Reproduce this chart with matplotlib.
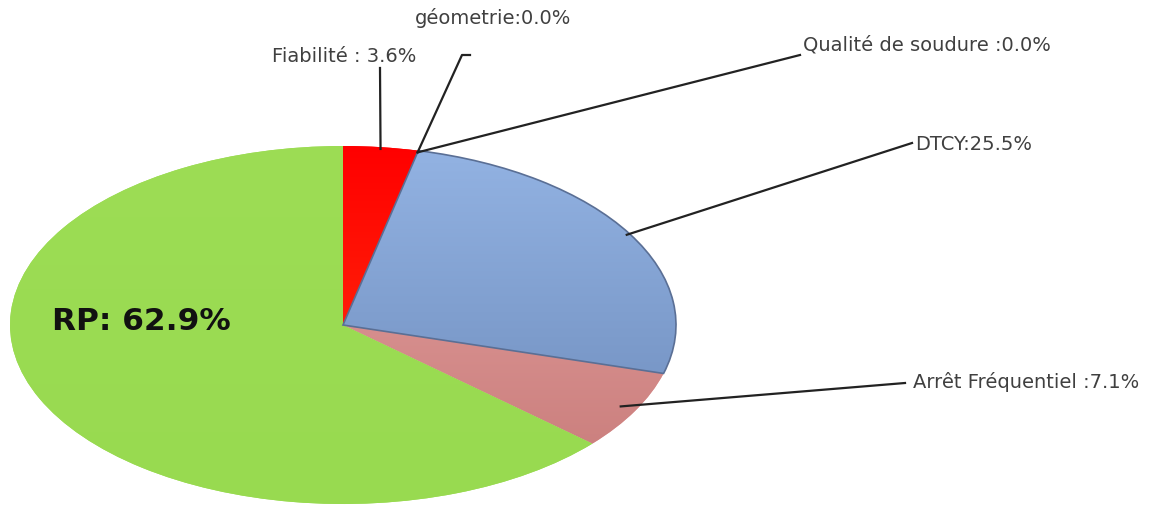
import matplotlib
matplotlib.use("Agg")
from matplotlib import pyplot as plt
import numpy as np

labels = ["Fiabilité : 3.6%", "géometrie:0.0%", "Qualité de soudure :0.0%",
          "DTCY:25.5%", "Arrêt Fréquentiel :7.1%", "RP: 62.9%"]
values = [3.6, 0.0, 0.0, 25.5, 7.1, 62.9]
# top / bottom colour of each wedge (simple vertical gradient)
colors_top = ["#ff0000", "#ffffff", "#ffffff", "#93b3e3", "#e6a3a3", "#9ddd55"]
colors_bot = ["#ff3a10", "#ffffff", "#ffffff", "#6a88b8", "#c77a78", "#98da50"]

W, H = 1164, 507
CX, CY, RX, RY = 343, 325, 333, 179   # pie centre / radii in pixels

fig = plt.figure(figsize=(W / 100, H / 100), dpi=100)
ax = fig.add_axes([(CX - RX) / W, (H - CY - RY) / H, 2 * RX / W, 2 * RY / H])

wedges, _ = ax.pie(values, startangle=90, counterclock=False, radius=1,
                   colors=colors_top, wedgeprops=dict(linewidth=0))
ax.set_aspect("auto")
ax.set_xlim(-1, 1)
ax.set_ylim(-1, 1)
ax.axis("off")

def hex2rgb(h):
    return np.array([int(h[i:i + 2], 16) for i in (1, 3, 5)]) / 255.0

yy = np.linspace(1, 0, 200)[:, None, None]
for w, ct, cb, v in zip(wedges, colors_top, colors_bot, values):
    if v == 0:
        continue
    img = hex2rgb(cb) * (1 - yy) + hex2rgb(ct) * yy
    img = np.repeat(img, 2, axis=1)
    im = ax.imshow(img, extent=[-1, 1, -1, 1], aspect="auto", zorder=2)
    im.set_clip_path(w)

# thin shaded rim on the blue wedge
wedges[3].set_edgecolor("#5a6f95")
wedges[3].set_linewidth(1.2)
wedges[3].set_zorder(3)
wedges[3].set_facecolor("none")

# leader-line anchor points on the pie edge (mid angle of each wedge)
total = sum(values)
angles = []
start = 90.0
for v in values:
    span = v / total * 360
    angles.append(np.deg2rad(start - span / 2))
    start -= span

def px(x, y):
    # pixel position (origin top-left) -> pie data coords
    return (x - CX) / RX, (CY - y) / RY

def edge(i, r=1.0):
    return r * np.cos(angles[i]), r * np.sin(angles[i])

txtcol = "#404040"
fs = 14
font = ["DejaVu Sans"]

lines = [
    (0, [(380, 68)]),
    (1, [(462, 55), (470, 55)]),
    (2, [(800, 55)]),
    (3, [(912, 143)]),
    (4, [(905, 383)]),
]
for i, pts in lines:
    x0, y0 = edge(i, 0.99 if i != 4 else 0.95)
    xs = [x0] + [px(*p)[0] for p in pts]
    ys = [y0] + [px(*p)[1] for p in pts]
    ax.plot(xs, ys, color="#222222", lw=1.6, clip_on=False, zorder=5)

label_pos = [(344, 57, "center"), (415, 18, "left"), (803, 45, "left"),
             (915, 145, "left"), (913, 382, "left")]
for lab, (x, y, ha) in zip(labels[:5], label_pos):
    tx, ty = px(x, y)
    ax.text(tx, ty, lab, ha=ha, va="center", fontsize=fs, color=txtcol,
            family=font, clip_on=False, zorder=6)

tx, ty = px(52, 322)
ax.text(tx, ty, labels[5], ha="left", va="center", fontsize=22.5,
        color="#111111", family="DejaVu Sans", fontweight="bold", zorder=6)

fig.savefig("out.png", dpi=100)
